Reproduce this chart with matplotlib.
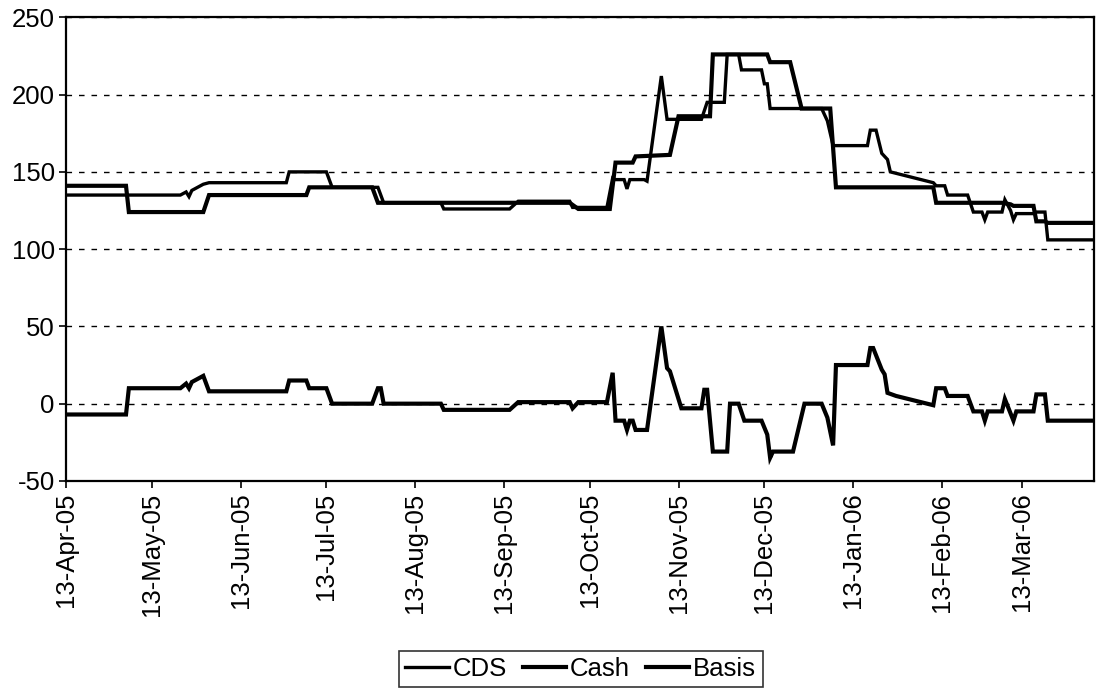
import pandas as pd
import matplotlib
matplotlib.use("Agg")
import matplotlib.pyplot as plt
import matplotlib.dates as mdates

plt.rcParams['font.family'] = ['Liberation Sans', 'DejaVu Sans']
plt.rcParams['axes.unicode_minus'] = False

# values (bp), change points only
cds_dates = ["2005-04-13", "2005-05-23", "2005-05-25", "2005-05-26", "2005-05-27",
             "2005-05-31", "2005-06-02", "2005-06-29", "2005-06-30", "2005-07-13",
             "2005-07-15", "2005-07-31", "2005-08-02", "2005-08-22", "2005-08-23",
             "2005-09-15", "2005-09-18", "2005-10-06", "2005-10-07", "2005-10-19",
             "2005-10-21", "2005-10-22", "2005-10-25", "2005-10-26", "2005-10-27",
             "2005-11-01", "2005-11-02", "2005-11-07", "2005-11-09", "2005-11-21",
             "2005-11-23", "2005-11-29", "2005-11-30", "2005-12-04", "2005-12-05",
             "2005-12-12", "2005-12-13", "2005-12-14", "2005-12-15", "2006-01-02",
             "2006-01-04", "2006-01-06", "2006-01-18", "2006-01-19", "2006-01-21",
             "2006-01-23", "2006-01-25", "2006-01-26", "2006-02-10", "2006-02-11",
             "2006-02-14", "2006-02-15", "2006-02-22", "2006-02-24", "2006-02-27",
             "2006-02-28", "2006-03-01", "2006-03-06", "2006-03-07", "2006-03-09",
             "2006-03-10", "2006-03-11", "2006-03-17", "2006-03-18", "2006-03-21",
             "2006-03-22", "2006-04-07"]
cds_values = [135, 135, 137, 134, 138,
              142, 143, 143, 150, 150,
              140, 140, 130, 130, 126,
              126, 131, 131, 127, 127,
              146, 145, 145, 139, 145,
              145, 144, 212, 184, 184,
              195, 195, 226, 226, 216,
              216, 207, 207, 191, 191,
              183, 167, 167, 177, 177,
              162, 158, 150, 143, 141,
              141, 135, 135, 124, 124,
              119, 124, 124, 132, 125,
              119, 123, 123, 124, 124,
              106, 106]

cash_dates = ["2005-04-13", "2005-05-04", "2005-05-05", "2005-05-31", "2005-06-02",
              "2005-07-06", "2005-07-07", "2005-07-29", "2005-07-31", "2005-10-06",
              "2005-10-09", "2005-10-20", "2005-10-22", "2005-10-28", "2005-10-29",
              "2005-11-10", "2005-11-13", "2005-11-24", "2005-11-25", "2005-12-14",
              "2005-12-15", "2005-12-22", "2005-12-26", "2006-01-05", "2006-01-07",
              "2006-02-10", "2006-02-11", "2006-03-06", "2006-03-09", "2006-03-10",
              "2006-03-17", "2006-03-18", "2006-03-21", "2006-03-22", "2006-04-07"]
cash_values = [141, 141, 124, 124, 135,
               135, 140, 140, 130, 130,
               126, 126, 156, 156, 160,
               161, 186, 186, 226, 226,
               221, 221, 191, 191, 140,
               140, 130, 130, 129, 128,
               128, 118, 118, 117, 117]

basis_dates = ["2005-04-13", "2005-05-04", "2005-05-05", "2005-05-23", "2005-05-25",
               "2005-05-26", "2005-05-27", "2005-05-31", "2005-06-02", "2005-06-29",
               "2005-06-30", "2005-07-06", "2005-07-07", "2005-07-13", "2005-07-15",
               "2005-07-29", "2005-07-31", "2005-08-01", "2005-08-02", "2005-08-22",
               "2005-08-23", "2005-09-15", "2005-09-18", "2005-10-06", "2005-10-07",
               "2005-10-09", "2005-10-19", "2005-10-21", "2005-10-22", "2005-10-25",
               "2005-10-26", "2005-10-27", "2005-10-28", "2005-10-29", "2005-11-02",
               "2005-11-07", "2005-11-09", "2005-11-10", "2005-11-14", "2005-11-21",
               "2005-11-22", "2005-11-23", "2005-11-25", "2005-11-30", "2005-12-01",
               "2005-12-04", "2005-12-06", "2005-12-12", "2005-12-14", "2005-12-15",
               "2005-12-16", "2005-12-23", "2005-12-27", "2006-01-02", "2006-01-04",
               "2006-01-06", "2006-01-07", "2006-01-18", "2006-01-19", "2006-01-20",
               "2006-01-23", "2006-01-24", "2006-01-25", "2006-01-28", "2006-02-10",
               "2006-02-11", "2006-02-14", "2006-02-15", "2006-02-22", "2006-02-24",
               "2006-02-27", "2006-02-28", "2006-03-01", "2006-03-06", "2006-03-07",
               "2006-03-10", "2006-03-11", "2006-03-17", "2006-03-18", "2006-03-21",
               "2006-03-22", "2006-04-07"]
basis_values = [-7, -7, 10, 10, 13,
                10, 14, 18, 8, 8,
                15, 15, 10, 10, 0,
                0, 10, 10, 0, 0,
                -4, -4, 1, 1, -3,
                1, 1, 20, -11, -11,
                -17, -11, -11, -17, -17,
                50, 23, 21, -3, -3,
                9, 9, -31, -31, 0,
                0, -11, -11, -20, -35,
                -31, -31, 0, 0, -9,
                -27, 25, 25, 36, 36,
                22, 19, 7, 5, -1,
                10, 10, 5, 5, -5,
                -5, -11, -5, -5, 3,
                -11, -5, -5, 6, 6,
                -11, -11]

series = [("CDS", cds_dates, cds_values, 2.4),
          ("Cash", cash_dates, cash_values, 3.0),
          ("Basis", basis_dates, basis_values, 3.0)]

fig = plt.figure(figsize=(10.98, 6.94), dpi=100)
ax = fig.add_axes([0.060, 0.307, 0.936, 0.668])

for name, dates, values, lw in series:
    ax.plot(pd.to_datetime(dates), values, color="black", lw=lw, label=name,
            solid_joinstyle="miter")

ax.set_xlim(pd.Timestamp("2005-04-13"), pd.Timestamp("2006-04-07"))
ax.set_ylim(-50, 250)
ax.set_yticks(range(-50, 251, 50))
ax.xaxis.set_major_locator(mdates.MonthLocator(bymonthday=13))
ax.xaxis.set_major_formatter(mdates.DateFormatter("%d-%b-%y"))
plt.setp(ax.get_xticklabels(), rotation=90)
ax.tick_params(axis="both", labelsize=18.5, length=5, width=1.2, colors="black")
ax.tick_params(axis="y", pad=3)
ax.grid(axis="y", color="black", linestyle=(0, (4, 5)), lw=1.0)

for s in ax.spines.values():
    s.set_linewidth(1.6)
    s.set_color("black")

leg = fig.legend(loc="center", bbox_to_anchor=(0.529, 0.036), ncol=3, fontsize=18.5,
                 frameon=True, fancybox=False, edgecolor="black", handlelength=1.7,
                 handletextpad=0.15, columnspacing=0.6, borderpad=0.25)
leg.get_frame().set_linewidth(1.2)

fig.savefig("out.png", dpi=100)
plt.close(fig)
